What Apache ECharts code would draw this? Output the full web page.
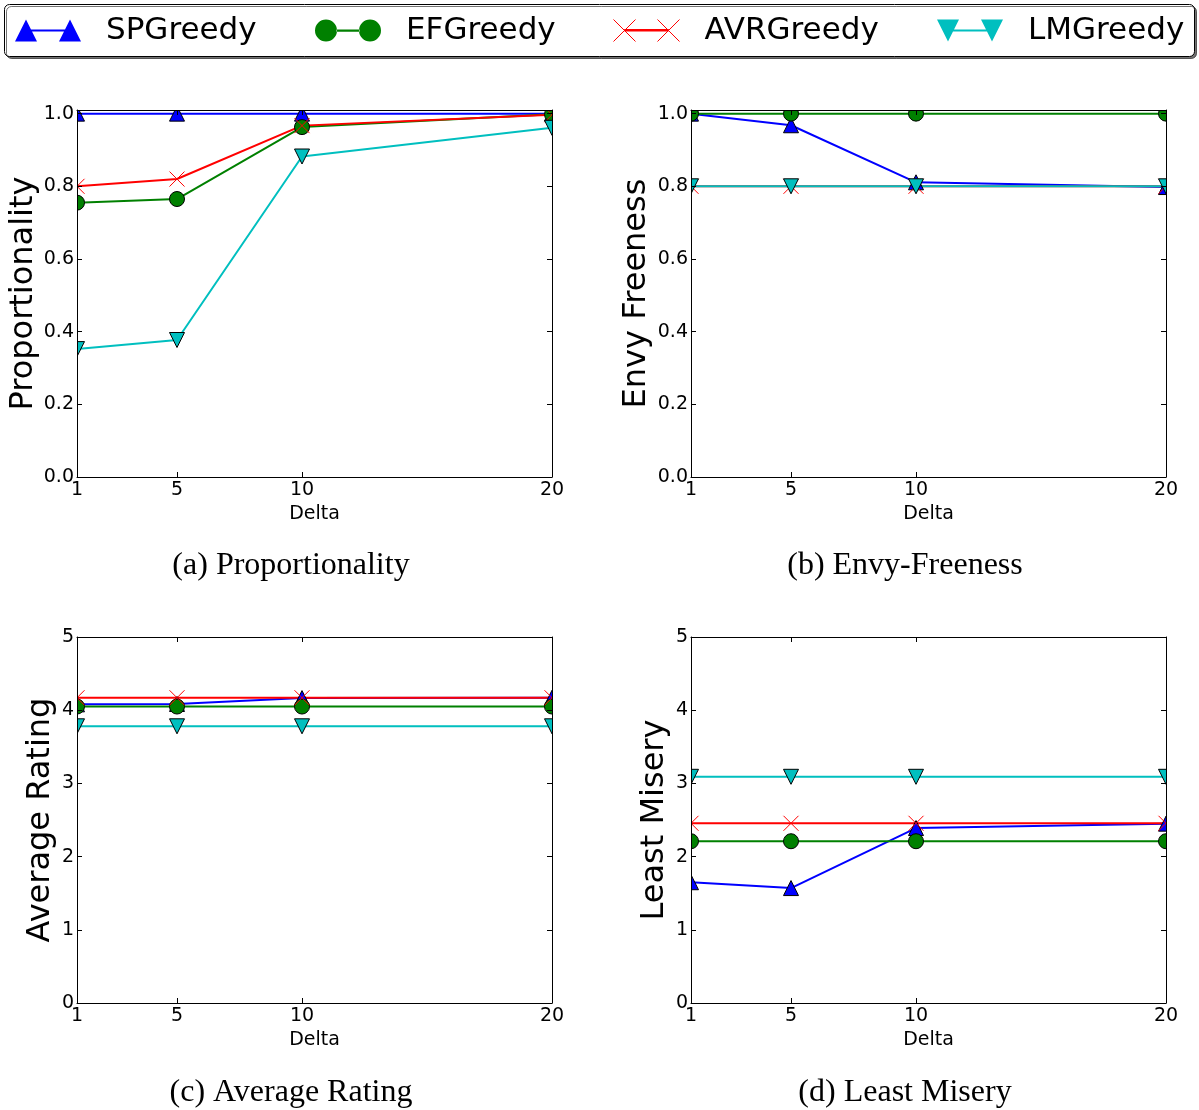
<!DOCTYPE html>
<html>
<head>
<meta charset="utf-8">
<script src="https://cdn.jsdelivr.net/npm/echarts@6/dist/echarts.min.js"></script>
<style>
  html, body { margin: 0; padding: 0; background: #ffffff; }
  #chart { width: 1199px; height: 1110px; }
</style>
</head>
<body>
<div id="chart"></div>
<script>
// ---- data -------------------------------------------------------------
const deltas = [1, 5, 10, 20];
const methods = ['SPGreedy', 'EFGreedy', 'AVRGreedy', 'LMGreedy'];

const xTicks = [1, 5, 10, 20];
const ratioTicks = [0, 0.2, 0.4, 0.6, 0.8, 1.0];
const ratingTicks = [0, 1, 2, 3, 4, 5];

// (a) Proportionality
const propSP  = [1.0, 1.0, 1.0, 1.0];
const propEF  = [0.755, 0.765, 0.963, 0.998];
const propAVR = [0.800, 0.820, 0.967, 0.997];
const propLM  = [0.352, 0.377, 0.882, 0.961];

// (b) Envy-Freeness
const envySP  = [1.0, 0.968, 0.811, 0.798];
const envyEF  = [1.0, 1.0, 1.0, 1.0];
const envyAVR = [0.80, 0.80, 0.80, 0.80];
const envyLM  = [0.80, 0.80, 0.80, 0.80];

// (c) Average Rating
const avgSP  = [4.08, 4.085, 4.165, 4.17];
const avgEF  = [4.05, 4.05, 4.05, 4.05];
const avgAVR = [4.17, 4.17, 4.17, 4.17];
const avgLM  = [3.78, 3.78, 3.78, 3.78];

// (d) Least Misery
const miserySP  = [1.65, 1.57, 2.39, 2.45];
const miseryEF  = [2.21, 2.21, 2.21, 2.21];
const miseryAVR = [2.455, 2.455, 2.455, 2.455];
const miseryLM  = [3.09, 3.09, 3.09, 3.09];

// ---- styling ----------------------------------------------------------
const X_PATH = 'path://M0,0L10,10M10,0L0,10';
const methodStyle = {
  SPGreedy:  { color: '#0000ff', symbol: 'triangle', rotate: 0,   border: '#000' },
  EFGreedy:  { color: '#008000', symbol: 'circle',   rotate: 0,   border: '#000' },
  AVRGreedy: { color: '#ff0000', symbol: X_PATH,     rotate: 0,   border: '#ff0000' },
  LMGreedy:  { color: '#00bfbf', symbol: 'triangle', rotate: 180, border: '#000' }
};

// legend handles: two markers joined by a line segment
const legendIcons = {
  SPGreedy:  'path://M0,22L11,0L22,22ZM16,10L50,10L50,12L16,12ZM44,22L55,0L66,22Z',
  EFGreedy:  'path://M0,11a11,11 0 1,0 22,0a11,11 0 1,0 -22,0ZM21.5,10L44.5,10L44.5,12.2L21.5,12.2ZM44,11a11,11 0 1,0 22,0a11,11 0 1,0 -22,0Z',
  AVRGreedy: 'path://M0,0L22,22M22,0L0,22M11,10L55,10L55,11.5L11,11.5ZM44,0L66,22M66,0L44,22',
  LMGreedy:  'path://M0,0L22,0L11,22ZM16,10L50,10L50,12L16,12ZM44,0L66,0L55,22Z'
};
const legendLefts = [15, 315, 613, 937];

const FONT = 'DejaVu Sans';
const panels = [
  { grid: { left: 77,  top: 110, width: 475, height: 367 }, yName: 'Proportionality', yMax: 1.01, yTicks: ratioTicks, dec: 1, nameGap: 37,
    series: [propSP, propEF, propAVR, propLM], caption: '(a) Proportionality', capX: 291, capY: 566 },
  { grid: { left: 691, top: 110, width: 475, height: 367 }, yName: 'Envy Freeness', yMax: 1.01, yTicks: ratioTicks, dec: 1, nameGap: 38,
    series: [envySP, envyEF, envyAVR, envyLM], caption: '(b) Envy-Freeness', capX: 905, capY: 566 },
  { grid: { left: 77,  top: 637, width: 475, height: 366 }, yName: 'Average Rating', yMax: 5, yTicks: ratingTicks, dec: 0, nameGap: 20,
    series: [avgSP, avgEF, avgAVR, avgLM], caption: '(c) Average Rating', capX: 291, capY: 1093 },
  { grid: { left: 691, top: 637, width: 475, height: 366 }, yName: 'Least Misery', yMax: 5, yTicks: ratingTicks, dec: 0, nameGap: 20,
    series: [miserySP, miseryEF, miseryAVR, miseryLM], caption: '(d) Least Misery', capX: 905, capY: 1093 }
];

// ---- build option -----------------------------------------------------
const grids = [], xAxes = [], yAxes = [], series = [], graphics = [];
const tickCommon = { show: true, inside: true, length: 5, lineStyle: { color: '#000', width: 1 } };
const lineCommon = { show: true, onZero: false, lineStyle: { color: '#000', width: 1 } };

panels.forEach((p, i) => {
  grids.push(Object.assign({ containLabel: false }, p.grid));
  const labelStyle = { color: '#000', fontSize: 19, fontFamily: FONT };
  // bottom and top x axes
  xAxes.push({
    gridIndex: i, type: 'value', position: 'bottom', min: 1, max: 20, z: 10,
    name: 'Delta', nameLocation: 'middle', nameGap: 28,
    nameTextStyle: { color: '#000', fontSize: 19, fontFamily: FONT },
    axisLine: lineCommon, splitLine: { show: false },
    axisTick: Object.assign({ customValues: xTicks }, tickCommon),
    axisLabel: Object.assign({ customValues: xTicks, margin: 4 }, labelStyle)
  });
  xAxes.push({
    gridIndex: i, type: 'value', position: 'top', min: 1, max: 20, z: 10,
    axisLine: lineCommon, splitLine: { show: false },
    axisTick: Object.assign({ customValues: xTicks }, tickCommon),
    axisLabel: { show: false }
  });
  // left and right y axes
  yAxes.push({
    gridIndex: i, type: 'value', position: 'left', min: 0, max: p.yMax, z: 10,
    name: p.yName, nameLocation: 'middle', nameGap: p.nameGap,
    nameTextStyle: { color: '#000', fontSize: 32, fontFamily: FONT },
    axisLine: lineCommon, splitLine: { show: false },
    axisTick: Object.assign({ customValues: p.yTicks }, tickCommon),
    axisLabel: Object.assign({ customValues: p.yTicks, margin: 3,
      formatter: v => Number(v).toFixed(p.dec) }, labelStyle)
  });
  yAxes.push({
    gridIndex: i, type: 'value', position: 'right', min: 0, max: p.yMax, z: 10,
    axisLine: lineCommon, splitLine: { show: false },
    axisTick: Object.assign({ customValues: p.yTicks }, tickCommon),
    axisLabel: { show: false }
  });

  p.series.forEach((vals, m) => {
    const name = methods[m];
    const st = methodStyle[name];
    series.push({
      type: 'line', name: name,
      xAxisIndex: 2 * i, yAxisIndex: 2 * i,
      data: deltas.map((d, k) => [d, vals[k]]),
      symbol: st.symbol, symbolSize: 15, symbolRotate: st.rotate,
      showAllSymbol: true, clip: false, z: 2,
      color: st.color,
      lineStyle: { color: st.color, width: 2 },
      itemStyle: { color: st.color, borderColor: st.border, borderWidth: 1, opacity: 1 },
      emphasis: { disabled: true }
    });
  });

  graphics.push({
    type: 'text', x: p.capX, y: p.capY, z: 15,
    style: { text: p.caption, fontSize: 32, fontFamily: 'Liberation Serif', fill: '#000',
             align: 'center', verticalAlign: 'middle' }
  });
});

// white surround so markers are cut at the plot frames
const colEdges = [0, 77, 552, 691, 1166, 1199];
const rowEdges = [0, 110, 477, 637, 1003, 1110];
const maskRects = [
  [colEdges[0], 0, colEdges[1] - colEdges[0], 1110],
  [colEdges[2], 0, colEdges[3] - colEdges[2], 1110],
  [colEdges[4], 0, colEdges[5] - colEdges[4], 1110],
  [0, rowEdges[0], 1199, rowEdges[1] - rowEdges[0]],
  [0, rowEdges[2], 1199, rowEdges[3] - rowEdges[2]],
  [0, rowEdges[4], 1199, rowEdges[5] - rowEdges[4]]
];
maskRects.forEach(r => graphics.push({
  type: 'rect', z: 5, silent: true,
  shape: { x: r[0], y: r[1], width: r[2], height: r[3] },
  style: { fill: '#ffffff' }
}));

// legend frame with drop shadow
graphics.push({
  type: 'rect', z: 15, silent: true,
  shape: { x: 4.5, y: 4.5, width: 1190, height: 52, r: 5 },
  style: { fill: '#ffffff', stroke: '#000', lineWidth: 1,
           shadowColor: 'rgba(0,0,0,0.55)', shadowOffsetX: 2, shadowOffsetY: 2, shadowBlur: 0 }
});

const legends = methods.map((name, m) => {
  const st = methodStyle[name];
  const isX = name === 'AVRGreedy';
  return {
    left: legendLefts[m], top: 15, padding: 0, z: 20, selectedMode: false,
    itemWidth: 66, itemHeight: 22,
    textStyle: { color: '#000', fontSize: 31, fontFamily: FONT, padding: [0, 0, 0, 20] },
    data: [{
      name: name, icon: legendIcons[name],
      itemStyle: isX
        ? { color: st.color, borderColor: st.color, borderWidth: 1 }
        : { color: st.color, borderWidth: 0 }
    }]
  };
});

const chart = echarts.init(document.getElementById('chart'), null, { renderer: 'canvas' });
chart.setOption({
  animation: false,
  backgroundColor: '#ffffff',
  grid: grids,
  xAxis: xAxes,
  yAxis: yAxes,
  legend: legends,
  series: series,
  graphic: graphics
});
</script>
</body>
</html>
